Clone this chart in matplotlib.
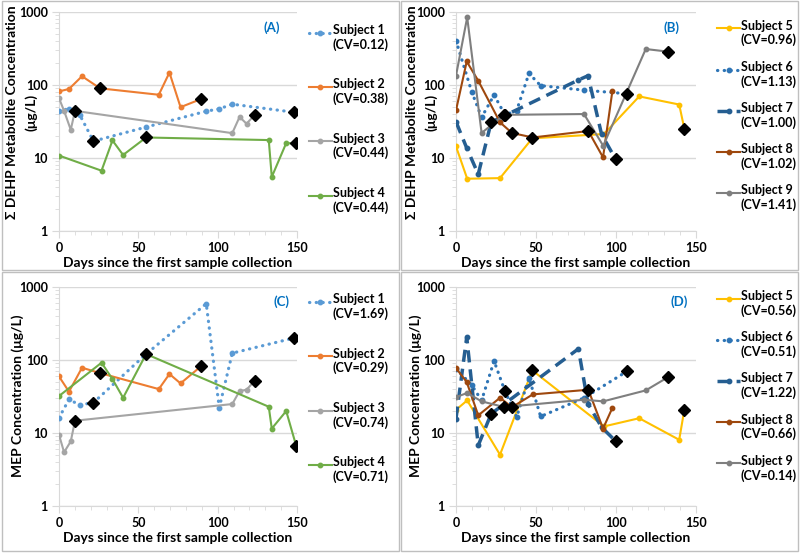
import matplotlib
matplotlib.use("Agg")
import matplotlib.pyplot as plt
import matplotlib.transforms as mtransforms
from matplotlib.patches import Rectangle
from matplotlib.legend_handler import HandlerLine2D
from matplotlib.ticker import FixedLocator, LogLocator, NullFormatter

plt.rcParams['font.family'] = ['Lato', 'DejaVu Sans']
plt.rcParams['font.weight'] = 'bold'

# ---------------- data ----------------
days_s1 = [0, 6.3, 13, 21.7, 54.8, 92.8, 101, 109.2, 147.9]
days_s2 = [0, 6.3, 14.5, 25.9, 62.9, 69.6, 76.6, 89.4]
days_s3 = [0, 3.2, 7.4, 10.1, 109.2, 113.8, 118.2, 123.3]
days_s4 = [0, 26.8, 33.7, 40.4, 54.9, 132.2, 134.1, 143.2, 149.5]
days_s5 = [0, 7, 27.5, 47.7, 92.5, 114.5, 139.5, 142.7]
days_s6 = [0, 9.8, 16, 23.8, 30.6, 37.9, 45.6, 52.9, 80, 106.7]
days_s7 = [0, 6.7, 13.9, 22, 76.5, 82.5, 91, 99.7]
days_s8 = [0, 6.7, 13.9, 27.5, 35, 48, 82.7, 91.9, 97.7]
days_s9 = [0, 7, 16, 30, 80, 92, 118.6, 132.7]

# Panel A: sum DEHP
dehp_s1 = [43.7, 47.6, 39.3, 17.0, 26.5, 43.7, 47.1, 54.6, 42.4]
dehp_s2 = [81.7, 88.2, 131.8, 90, 73.5, 148, 49.7, 64]
dehp_s3 = [66, 44.2, 24.4, 44.2, 21.9, 36.5, 29.5, 38.9]
dehp_s4 = [10.8, 6.7, 17.4, 11, 19.1, 17.6, 5.5, 16, 15.8]
# Panel B: sum DEHP
dehp_s5 = [14.4, 5.2, 5.3, 18.6, 21.3, 69.8, 54, 25.2]
dehp_s6 = [405, 81, 36, 73, 39, 44.5, 144, 98, 85, 76]
dehp_s7 = [31.4, 13.7, 6.0, 31, 117, 134, 21, 9.7]
dehp_s8 = [44.9, 210, 114.5, 30.8, 22, 19.1, 23.4, 10.2, 81.6]
dehp_s9 = [134, 845, 22, 39, 40, 14.7, 311, 286]
# Panel C: MEP
mep_s1 = [16, 28.6, 24, 25.8, 119, 585, 22, 123, 198]
mep_s2 = [59, 36.5, 77.7, 65.6, 39.6, 63.7, 47.4, 81]
mep_s3 = [9.4, 5.4, 7.6, 14.6, 24.7, 37.2, 38.8, 51.5]
mep_s4 = [31.8, 91, 54.3, 30.1, 119.6, 22.7, 11.4, 19.8, 6.6]
# Panel D: MEP
mep_s5 = [20.6, 27.7, 5.0, 71.4, 12.2, 15.8, 8.0, 20.6]
mep_s6 = [75, 45, 27.7, 96, 37, 16.4, 56.6, 16.7, 30, 69]
mep_s7 = [15.6, 204, 6.7, 18.2, 141, 25, 11.9, 7.7]
mep_s8 = [76.9, 49.4, 17.3, 30.1, 22.4, 33.5, 38.8, 11.4, 21.8]
mep_s9 = [30.8, 35, 26.9, 22.5, 28.3, 26.9, 38, 58]

# indices of samples marked with black diamonds
diam_s1 = [3, 8]
diam_s2 = [3, 7]
diam_s3 = [3, 7]
diam_s4 = [4, 8]
diam_s5 = [3, 7]
diam_s6 = [4, 9]
diam_s7 = [3, 7]
diam_s8 = [4, 6]
diam_s9 = [3, 7]

subjects_14 = ["Subject 1", "Subject 2", "Subject 3", "Subject 4"]
subjects_59 = ["Subject 5", "Subject 6", "Subject 7", "Subject 8", "Subject 9"]
cv_dehp_14 = ["0.12", "0.38", "0.44", "0.44"]
cv_dehp_59 = ["0.96", "1.13", "1.00", "1.02", "1.41"]
cv_mep_14 = ["1.69", "0.29", "0.74", "0.71"]
cv_mep_59 = ["0.56", "0.51", "1.22", "0.66", "0.14"]

panel_labels = ["(A)", "(B)", "(C)", "(D)"]
ylabel_dehp = "Σ DEHP Metabolite Concentration"
ylabel_unit = "(μg/L)"
ylabel_mep = "MEP Concentration (μg/L)"
xlabel = "Days since the first sample collection"
yticks = [1, 10, 100, 1000]
xticks = [0, 50, 100, 150]

# ---------------- styles ----------------
DOT = (0, (0.1, 2.0))
styles = {
    "Subject 1": dict(color="#5B9BD5", ls=DOT, lw=2.3, cap="round"),
    "Subject 2": dict(color="#ED7D31", ls="-", lw=1.5),
    "Subject 3": dict(color="#A5A5A5", ls="-", lw=1.5),
    "Subject 4": dict(color="#70AD47", ls="-", lw=1.5),
    "Subject 5": dict(color="#FFC000", ls="-", lw=1.5),
    "Subject 6": dict(color="#2E75B6", ls=DOT, lw=2.3, cap="round"),
    "Subject 7": dict(color="#255E91", ls=(0, (3.5, 2.0)), lw=2.5),
    "Subject 8": dict(color="#9E480E", ls="-", lw=1.5),
    "Subject 9": dict(color="#7F7F7F", ls="-", lw=1.5),
}

LEG_FS = 9


class TopLineHandler(HandlerLine2D):
    """Legend line aligned with the first line of a two-line label."""
    def create_artists(self, legend, orig_handle, xdescent, ydescent, width,
                       height, fontsize, trans):
        arts = super().create_artists(legend, orig_handle, xdescent, ydescent,
                                      width, height, fontsize, trans)
        shift = mtransforms.Affine2D().translate(0, 0.42 * fontsize)
        for a in arts:
            a.set_transform(shift + trans)
        return arts


fig = plt.figure(figsize=(8.0, 5.53), dpi=100)

# panel borders
for (x0, y0, w, h) in [(0.002, 0.512, 0.497, 0.486), (0.501, 0.512, 0.497, 0.486),
                       (0.002, 0.003, 0.497, 0.505), (0.501, 0.003, 0.497, 0.505)]:
    fig.patches.append(Rectangle((x0, y0), w, h, transform=fig.transFigure,
                                 fill=False, ec="#BFBFBF", lw=1.0))

grid_c = "#D9D9D9"


def draw_panel(rect, series, names, cvs, label, label_pos, ylabel, ylabel_xy,
               unit_xy, leg_x, leg_y, leg_space):
    ax = fig.add_axes(rect)
    ax.set_yscale("log")
    ax.set_xlim(0, 150)
    ax.set_ylim(1, 1000)
    handles = []
    for (d, v, di), name, cv in zip(series, names, cvs):
        st = styles[name]
        h, = ax.plot(d, v, color=st["color"], linestyle=st["ls"], lw=st["lw"],
                     marker="o", ms=3.2, mec=st["color"], mfc=st["color"],
                     dash_capstyle=st.get("cap", "butt"),
                     label=f"{name}\n(CV={cv})", zorder=3)
        handles.append(h)
    for (d, v, di), name in zip(series, names):
        ax.plot([d[i] for i in di], [v[i] for i in di], linestyle="none",
                marker="D", ms=6.5, color="black", zorder=5)
    ax.yaxis.set_major_locator(FixedLocator(yticks))
    ax.set_yticklabels([str(t) for t in yticks])
    ax.yaxis.set_minor_locator(LogLocator(base=10, subs=range(2, 10)))
    ax.yaxis.set_minor_formatter(NullFormatter())
    ax.xaxis.set_major_locator(FixedLocator(xticks))
    ax.xaxis.set_minor_locator(FixedLocator(range(0, 151, 10)))
    ax.grid(axis="y", which="major", color=grid_c, lw=1.0, zorder=0)
    for s in ["top", "right"]:
        ax.spines[s].set_visible(False)
    for s in ["left", "bottom"]:
        ax.spines[s].set_color(grid_c)
    ax.tick_params(axis="both", which="both", color=grid_c, direction="out")
    ax.tick_params(axis="both", which="major", length=5, labelsize=9, pad=3)
    ax.tick_params(axis="both", which="minor", length=3)
    for t in ax.get_xticklabels() + ax.get_yticklabels():
        t.set_fontweight("bold")
    ax.set_xlabel(xlabel, fontsize=10, fontweight="bold", labelpad=2)
    ax.set_ylabel(ylabel, fontsize=10, fontweight="bold", ha="center",
                  va="center")
    ax.yaxis.set_label_coords(*ylabel_xy)
    if unit_xy is not None:
        ax.text(unit_xy[0], unit_xy[1], ylabel_unit, transform=ax.transAxes,
                rotation=90, fontsize=10, fontweight="bold",
                ha="center", va="center")
    ax.text(label_pos[0], label_pos[1], label, transform=ax.transAxes,
            color="#0070C0", fontsize=9.5, fontweight="bold",
            ha="center", va="center")
    ax.legend(handles=handles, loc="upper left",
              bbox_to_anchor=(leg_x, leg_y), frameon=False,
              prop={"size": LEG_FS, "weight": "bold"},
              handlelength=1.85, handletextpad=0.05,
              labelspacing=leg_space, numpoints=1, borderaxespad=0,
              borderpad=0,
              handler_map={h: TopLineHandler() for h in handles})
    return ax


draw_panel([0.07375, 0.5823, 0.2975, 0.396],
           [(days_s1, dehp_s1, diam_s1), (days_s2, dehp_s2, diam_s2),
            (days_s3, dehp_s3, diam_s3), (days_s4, dehp_s4, diam_s4)],
           subjects_14, cv_dehp_14, panel_labels[0], (0.895, 0.93),
           ylabel_dehp, (-0.197, 0.543), (-0.118, 0.54), 1.05, 0.945, 2.2)
draw_panel([0.57, 0.5823, 0.30, 0.396],
           [(days_s5, dehp_s5, diam_s5), (days_s6, dehp_s6, diam_s6),
            (days_s7, dehp_s7, diam_s7), (days_s8, dehp_s8, diam_s8),
            (days_s9, dehp_s9, diam_s9)],
           subjects_59, cv_dehp_59, panel_labels[1], (0.90, 0.93),
           ylabel_dehp, (-0.183, 0.543), (-0.103, 0.54), 1.0875, 0.965, 1.15)
draw_panel([0.07375, 0.0855, 0.2975, 0.396],
           [(days_s1, mep_s1, diam_s1), (days_s2, mep_s2, diam_s2),
            (days_s3, mep_s3, diam_s3), (days_s4, mep_s4, diam_s4)],
           subjects_14, cv_mep_14, panel_labels[2], (0.933, 0.93),
           ylabel_mep, (-0.172, 0.5), None, 1.05, 0.97, 2.2)
draw_panel([0.57, 0.0855, 0.30, 0.396],
           [(days_s5, mep_s5, diam_s5), (days_s6, mep_s6, diam_s6),
            (days_s7, mep_s7, diam_s7), (days_s8, mep_s8, diam_s8),
            (days_s9, mep_s9, diam_s9)],
           subjects_59, cv_mep_59, panel_labels[3], (0.93, 0.93),
           ylabel_mep, (-0.167, 0.5), None, 1.0875, 0.985, 1.15)

fig.savefig("out.png", dpi=100)
